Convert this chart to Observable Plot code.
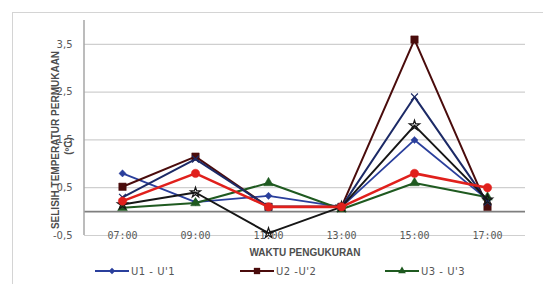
<!DOCTYPE html>
<html>
<head>
<meta charset="utf-8">
<script src="https://cdn.jsdelivr.net/npm/d3@7"></script>
<script src="https://cdn.jsdelivr.net/npm/@observablehq/plot@0.6"></script>
<style>
  html, body { margin: 0; padding: 0; background: #fff; }
  #wrap { position: relative; width: 543px; height: 284px; overflow: hidden; background: #fff; }
  #border { position: absolute; left: 12px; top: 12px; width: 560px; height: 300px; border: 1px solid #d4d4d4; box-sizing: border-box; }
  #chart { position: absolute; left: 0; top: 0; }
  #legend { position: absolute; left: 0; top: 263px; width: 543px; height: 20px;
            font-family: "DejaVu Sans", sans-serif; font-size: 10px; color: #555; }
  .item { position: absolute; top: 2px; display: flex; align-items: center; }
  .item span { margin-left: 2px; letter-spacing: 0.5px; }
</style>
</head>
<body>
<div id="wrap">
  <div id="border"></div>
  <div id="chart"></div>
  <div id="legend"></div>
</div>
<script>
// ---- data ----
const times = ["07:00", "09:00", "11:00", "13:00", "15:00", "17:00"];
const seriesNames = ["U1 - U'1", "U2 -U'2", "U3 - U'3", "U4 - U'4", "U5 - U'5", "U6 - U'6"];
const u1 = [0.80, 0.20, 0.33, 0.10, 1.50, 0.25];
const u2 = [0.52, 1.15, 0.10, 0.10, 3.60, 0.10];
const u3 = [0.08, 0.18, 0.60, 0.05, 0.60, 0.30];
const u4 = [0.30, 1.10, 0.10, 0.10, 2.40, 0.20];
const u5 = [0.15, 0.40, -0.45, 0.10, 1.80, 0.25];
const u6 = [0.22, 0.80, 0.10, 0.10, 0.80, 0.50];
const yTicks = [-0.5, 0.5, 1.5, 2.5, 3.5];
const legendShown = [0, 1, 2];

// ---- styles ----
const colors = ["#2a3f9c", "#4a0c0c", "#1f5a20", "#1c2a66", "#161616", "#e0201c"];
const symbols = ["diamond2", "square", "triangle", "times", "star", "circle"];
const rs = [3.2, 4.2, 3.6, 3.2, 3.2, 4.2];
const widths = [1.8, 2, 2, 2, 2, 2.6];

const allVals = [u1, u2, u3, u4, u5, u6];
const data = [];
allVals.forEach((vals, si) => vals.forEach((v, i) => data.push({series: seriesNames[si], si, time: times[i], value: v})));

const fmt = d => d3.format(".1f")(d).replace(".", ",").replace("−", "-");

const yAxisLine = (index, scales, values, dimensions) => {
  const g = d3.create("svg:line")
    .attr("x1", dimensions.marginLeft).attr("x2", dimensions.marginLeft)
    .attr("y1", dimensions.marginTop).attr("y2", dimensions.height - dimensions.marginBottom)
    .attr("stroke", "#a6a6a6").attr("stroke-width", 1.5);
  return g.node();
};

const marks = [
  Plot.gridY(yTicks, {stroke: "#cfcfcf", strokeOpacity: 1, strokeWidth: 1.2}),
  Plot.ruleY([0], {stroke: "#7f7f7f", strokeWidth: 1.6}),
  yAxisLine,
  Plot.axisY(yTicks, {tickSize: 0, tickPadding: 12, tickFormat: fmt, fontSize: 10, label: null,
    fontFamily: "DejaVu Sans", fill: "#595959", style: "letter-spacing:1.5px"}),
  Plot.axisX({tickSize: 0, tickPadding: -4, fontSize: 10, fontFamily: "DejaVu Sans Mono",
    fill: "#595959", label: null, style: "letter-spacing:2.4px"}),
  Plot.text(["SELISIH TEMPERATUR PERMUKAAN"], {frameAnchor: "left", dx: -29, dy: 12, rotate: -90,
    textAnchor: "middle", lineAnchor: "middle",
    fontSize: 10, fontWeight: "bold", fontFamily: "Liberation Sans", fill: "#4d4d4d", text: d => d,
    style: "letter-spacing:1.1px"}),
  Plot.text(["(ºC)"], {frameAnchor: "left", dx: -16, dy: 18, rotate: -90,
    textAnchor: "middle", lineAnchor: "middle",
    fontSize: 10, fontWeight: "bold", fontFamily: "Liberation Sans", fill: "#4d4d4d", text: d => d,
    style: "letter-spacing:1px"}),
  Plot.text(["WAKTU PENGUKURAN"], {frameAnchor: "bottom", dy: 17, lineAnchor: "middle",
    fontSize: 10, fontWeight: "bold", fontFamily: "Liberation Sans", fill: "#4d4d4d",
    text: d => d, style: "letter-spacing:1.8px"})
];
allVals.forEach((vals, si) => {
  const d = data.filter(r => r.si === si);
  marks.push(Plot.line(d, {x: "time", y: "value", stroke: colors[si], strokeWidth: widths[si]}));
  const isStroke = symbols[si] === "times" || symbols[si] === "star";
  marks.push(Plot.dot(d, {x: "time", y: "value", symbol: () => symbols[si], r: rs[si],
    fill: isStroke ? "none" : colors[si], stroke: colors[si], strokeWidth: isStroke ? 1.2 : 0.5}));
});

const chart = Plot.plot({
  width: 543,
  height: 262,
  marginLeft: 84,
  marginRight: 18,
  marginTop: 20,
  marginBottom: 27,
  style: {background: "transparent", overflow: "visible"},
  x: {type: "point", domain: times, padding: 0.5, axis: null},
  y: {domain: [-0.5, 4.0], axis: null},
  symbol: {type: "identity"},
  marks
});
document.getElementById("chart").appendChild(chart);

// ---- legend ----
const legendX = [95, 240, 385];
const leg = document.getElementById("legend");
legendShown.forEach((si, k) => {
  const item = document.createElement("div");
  item.className = "item";
  item.style.left = legendX[k] + "px";
  const sym = d3.symbol(
    si === 0 ? d3.symbolDiamond2 : si === 1 ? d3.symbolSquare : d3.symbolTriangle,
    si === 1 ? 40 : 26)();
  item.innerHTML = `<svg width="34" height="12"><line x1="0" x2="34" y1="6" y2="6" stroke="${colors[si]}" stroke-width="2"/>` +
    `<path d="${sym}" transform="translate(17,6)" fill="${colors[si]}"/></svg><span>${seriesNames[si]}</span>`;
  leg.appendChild(item);
});
</script>
</body>
</html>
